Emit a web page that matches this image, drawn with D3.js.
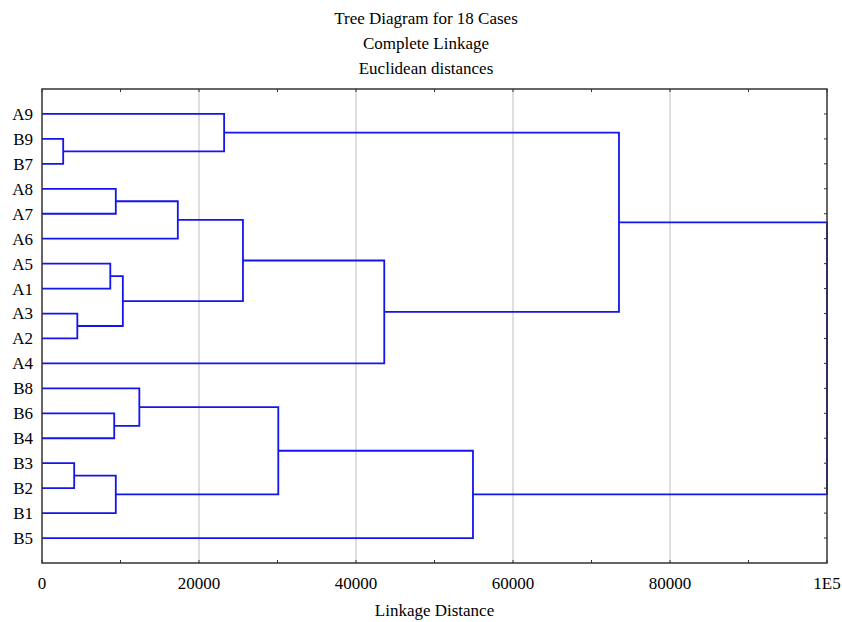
<!DOCTYPE html>
<head>
  <meta charset="utf-8">
  <script src="https://d3js.org/d3.v7.min.js"></script>
  <style>
    body { margin:0; background:#fff; }
    text { font-family: "Liberation Serif", "DejaVu Serif", serif; fill:#000; font-size:17px; }
  </style>
</head>
<body>
<script>

/* Data */
/* ==== */

var titleLines = ['Tree Diagram for 18 Cases', 'Complete Linkage', 'Euclidean distances'];
var xLabel = 'Linkage Distance';

// leaf order, top to bottom
var leaves = ['A9','B9','B7','A8','A7','A6','A5','A1','A3','A2','A4',
              'B8','B6','B4','B3','B2','B1','B5'];

// merges: [left, right, distance]; cluster n is named 'c' + n
var merges = [
  ['B9', 'B7', 2700],     // c0
  ['A9', 'c0', 23200],    // c1
  ['A8', 'A7', 9400],     // c2
  ['c2', 'A6', 17300],    // c3
  ['A5', 'A1', 8700],     // c4
  ['A3', 'A2', 4500],     // c5
  ['c4', 'c5', 10300],    // c6
  ['c3', 'c6', 25600],    // c7
  ['c7', 'A4', 43600],    // c8
  ['c1', 'c8', 73500],    // c9
  ['B6', 'B4', 9200],     // c10
  ['B8', 'c10', 12400],   // c11
  ['B3', 'B2', 4100],     // c12
  ['c12', 'B1', 9400],    // c13
  ['c11', 'c13', 30100],  // c14
  ['c14', 'B5', 54900],   // c15
  ['c9', 'c15', 100000]   // c16
];

var xTicks = [0, 20000, 40000, 60000, 80000, 100000];
var xTickLabels = ['0', '20000', '40000', '60000', '80000', '1E5'];
var xMinorTicks = d3.range(10000, 100000, 20000);


/* Set up */
/* ====== */

var width = 842, height = 622;
var margin = { top: 89, right: 15, bottom: 59, left: 42 };
var w = width - margin.left - margin.right,
    h = height - margin.top - margin.bottom;

var svg = d3.select('body')
  .append('svg')
    .attr('width', width)
    .attr('height', height);

var g = svg.append('g')
    .attr('transform', 'translate(' + margin.left + ',' + margin.top + ')');

var x = d3.scaleLinear().domain([0, 100000]).range([0, w]);
var y = d3.scalePoint().domain(leaves).range([0, h]).padding(1);


// title
svg.selectAll('.title')
    .data(titleLines)
    .enter()
  .append('text')
    .attr('class', 'title')
    .attr('x', 426)
    .attr('y', function(d, i) { return 18 + i * 25; })
    .attr('dy', '0.35em')
    .attr('text-anchor', 'middle')
    .text(function(d) { return d; });


// grid
g.selectAll('.grid')
    .data(xTicks.slice(1, -1))
    .enter()
  .append('line')
    .attr('class', 'grid')
    .attr('x1', function(d) { return x(d); })
    .attr('x2', function(d) { return x(d); })
    .attr('y1', 0)
    .attr('y2', h)
    .attr('stroke', '#d4d4d4')
    .attr('stroke-width', 1.5);


/* Tree */
/* ==== */

var nodes = {};
leaves.forEach(function(l) { nodes[l] = { y: y(l), d: 0 }; });

var links = [];
merges.forEach(function(m, i) {
  var a = nodes[m[0]], b = nodes[m[1]];
  var node = { y: (a.y + b.y) / 2, d: m[2] };
  nodes['c' + i] = node;
  links.push(
    [[x(a.d), a.y], [x(m[2]), a.y], [x(m[2]), b.y], [x(b.d), b.y]]
  );
});

g.selectAll('.link')
    .data(links)
    .enter()
  .append('path')
    .attr('class', 'link')
    .attr('d', d3.line())
    .attr('fill', 'none')
    .attr('stroke', '#1414f0')
    .attr('stroke-width', 1.8);


/* Frame and axes */
/* ============== */

g.append('rect')
    .attr('width', w)
    .attr('height', h)
    .attr('fill', 'none')
    .attr('stroke', '#333')
    .attr('stroke-width', 1.5);

var allTicks = xTicks.concat(xMinorTicks);

// little inward ticks on top and bottom
g.selectAll('.tickB')
    .data(allTicks)
    .enter()
  .append('line')
    .attr('x1', function(d) { return x(d); })
    .attr('x2', function(d) { return x(d); })
    .attr('y1', h)
    .attr('y2', h - 3)
    .attr('stroke', '#333');

g.selectAll('.tickT')
    .data(allTicks)
    .enter()
  .append('line')
    .attr('x1', function(d) { return x(d); })
    .attr('x2', function(d) { return x(d); })
    .attr('y1', 0)
    .attr('y2', 3)
    .attr('stroke', '#333');

// ticks on right edge at each leaf
g.selectAll('.tickR')
    .data(leaves)
    .enter()
  .append('line')
    .attr('x1', w)
    .attr('x2', w - 3)
    .attr('y1', function(d) { return y(d); })
    .attr('y2', function(d) { return y(d); })
    .attr('stroke', '#333');

// x tick labels
g.selectAll('.xlab')
    .data(xTicks)
    .enter()
  .append('text')
    .attr('x', function(d) { return x(d); })
    .attr('y', h + 20)
    .attr('dy', '0.35em')
    .attr('text-anchor', 'middle')
    .text(function(d, i) { return xTickLabels[i]; });

// leaf labels
g.selectAll('.ylab')
    .data(leaves)
    .enter()
  .append('text')
    .attr('x', -9)
    .attr('y', function(d) { return y(d); })
    .attr('dy', '0.35em')
    .attr('text-anchor', 'end')
    .text(function(d) { return d; });

// axis title
g.append('text')
    .attr('x', w / 2)
    .attr('y', h + 47)
    .attr('dy', '0.35em')
    .attr('text-anchor', 'middle')
    .text(xLabel);

</script>
</body>
